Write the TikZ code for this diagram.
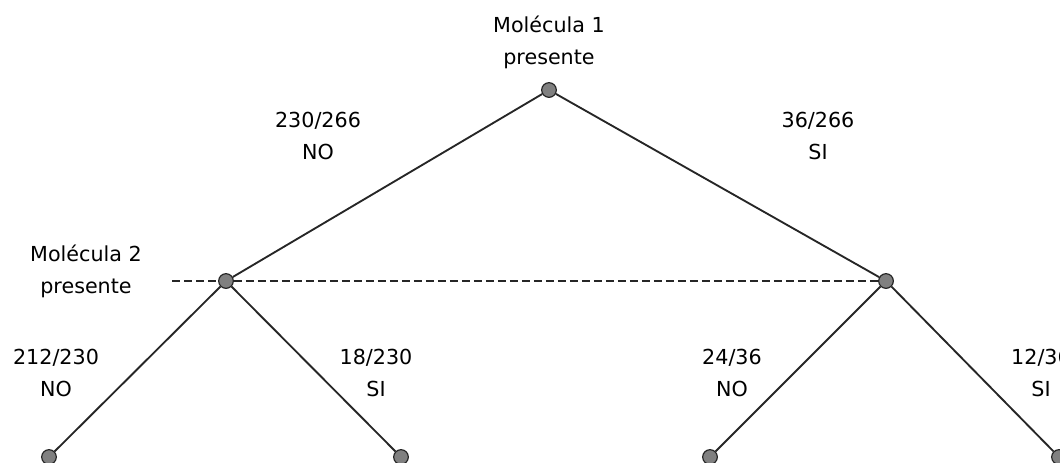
\documentclass[tikz,border=0pt]{standalone}
\usepackage{fontspec}
\setmainfont{DejaVu Sans}
\usetikzlibrary{positioning}

\begin{document}
\begin{tikzpicture}[x=0.75pt,y=-0.75pt,
  dot/.style={circle,draw=black!85,fill=black!50,line width=0.9pt,minimum size=11pt,inner sep=0pt},
  branch/.style={line width=1.4pt,black!85},
  lbl/.style={align=center,font=\fontsize{15.5}{24}\selectfont,text=black,inner sep=0pt}]

\useasboundingbox (0,0) rectangle (1060,462);

% tree nodes
\node (root) [dot] at (549,90) {};
\node (m2_no) [dot] at (226,281) {};
\node (m2_si) [dot] at (886,281) {};
\node (leaf_0) [dot] at (49,457) {};
\node (leaf_1) [dot] at (401,457) {};
\node (leaf_2) [dot] at (710,457) {};
\node (leaf_3) [dot] at (1059,457) {};

% molecules
\node (mol_1) [lbl] at (549,42) {Molécula 1\\presente};
\node (mol_2) [lbl] at (86,271) {Molécula 2\\presente};

% branch labels
\node (p_no) [lbl] at (318,136) {230/266\\NO};
\node (p_si) [lbl] at (818,136) {36/266\\SI};
\node (p_no_no) [lbl] at (56,373) {212/230\\NO};
\node (p_no_si) [lbl] at (376,373) {18/230\\SI};
\node (p_si_no) [lbl] at (732,373) {24/36\\NO};
\node (p_si_si) [lbl] at (1041,373) {12/36\\SI};

\draw [branch] (root) -- (m2_no);
\draw [branch] (root) -- (m2_si);
\draw [branch] (m2_no) -- (leaf_0);
\draw [branch] (m2_no) -- (leaf_1);
\draw [branch] (m2_si) -- (leaf_2);
\draw [branch] (m2_si) -- (leaf_3);

% level line
\coordinate (lvl_start) at (172,281);
\draw [branch,line width=1.1pt,dash pattern=on 6pt off 3pt] (lvl_start) -- (m2_no);
\draw [branch,line width=1.1pt,dash pattern=on 6pt off 3pt] (m2_no) -- (m2_si);
\end{tikzpicture}
\end{document}
